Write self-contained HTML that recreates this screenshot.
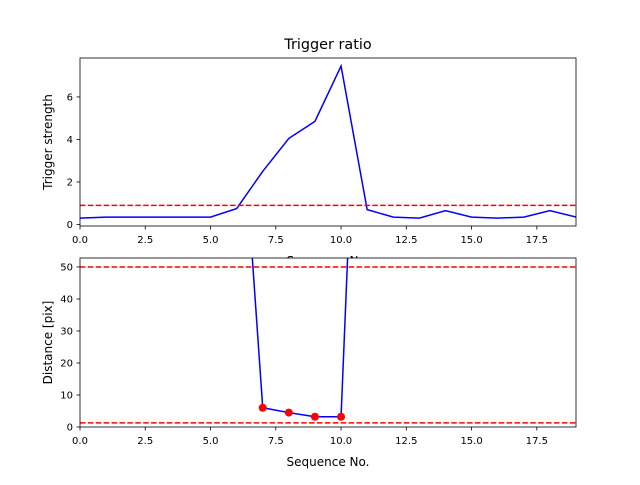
<!DOCTYPE html>
<html><head><meta charset="utf-8"><style>
body{margin:0;background:#fff;font-family:"Liberation Sans","DejaVu Sans",sans-serif}
text{font-family:"DejaVu Sans","Liberation Sans",sans-serif}
</style></head><body>
<svg id="c" width="640" height="480" xmlns="http://www.w3.org/2000/svg"></svg>
<script>
const seq=[0,1,2,3,4,5,6,7,8,9,10,11,12,13,14,15,16,17,18,19];
const strength=[0.3,0.35,0.35,0.35,0.35,0.35,0.75,2.5,4.05,4.85,7.45,0.7,0.35,0.3,0.65,0.35,0.3,0.35,0.65,0.35];
const strengthThreshold=0.9;
const distX=[5,6,7,8,9,10,11,12];
const distance=[150,123,6,4.5,3.2,3.2,201,150];
const dotX=[7,8,9,10];
const dotY=[6,4.5,3.2,3.2];
const distLines=[50,1.3];
const xTicks=[0,2.5,5,7.5,10,12.5,15,17.5];
const xTickLabels=["0.0","2.5","5.0","7.5","10.0","12.5","15.0","17.5"];
const topTicks=[0,2,4,6];
const botTicks=[0,10,20,30,40,50];

const svg=document.getElementById('c');
const NS='http://www.w3.org/2000/svg';
function el(t,a,p){const e=document.createElementNS(NS,t);for(const k in a)e.setAttribute(k,a[k]);(p||svg).appendChild(e);return e;}
function panel(y0,y1,ymin,ymax,name){
  const L=80,R=576;
  const sx=v=>L+(v-0)/(19-0)*(R-L);
  const sy=v=>y1-(v-ymin)/(ymax-ymin)*(y1-y0);
  const g=el('g',{});
  
  
  el('rect',{x:L,y:y0,width:R-L,height:y1-y0,fill:'#fff'},g);
  const cid='clip'+name;
  const cp=el('clipPath',{id:cid},g);el('rect',{x:L,y:y0,width:R-L,height:y1-y0},cp);
  return {g,sx,sy,L,R,y0,y1,cid};
}
function axes(p,yt,ylabels,ytitle,name){
  const {g,sx,sy,L,R,y0,y1}=p;
  el('rect',{x:L,y:y0,width:R-L,height:y1-y0,fill:'none',stroke:'#000','stroke-width':0.8},g);
  xTicks.forEach((v,i)=>{const x=sx(v);el('line',{x1:x,x2:x,y1:y1,y2:y1+3.5,stroke:'#000','stroke-width':0.8},g);
    const t=el('text',{x:x,y:y1+17,'font-size':10,'text-anchor':'middle'},g);t.textContent=xTickLabels[i];
    });
  yt.forEach(v=>{const y=sy(v);el('line',{x1:L,x2:L-3.5,y1:y,y2:y,stroke:'#000','stroke-width':0.8},g);
    const t=el('text',{x:L-7,y:y+3.5,'font-size':10,'text-anchor':'end'},g);t.textContent=String(v);
    });
  const xt=el('text',{x:(L+R)/2,y:y1+39,'font-size':12,'text-anchor':'middle'},g);xt.textContent='Sequence No.';
  
  const yy=(y0+y1)/2;
  const ytx=el('text',{x:52,y:yy,'font-size':12,'text-anchor':'middle',transform:`rotate(-90 52 ${yy})`},g);ytx.textContent=ytitle;
  
}
// top
const p1=panel(58,226,-0.07,7.83,'top-panel');
const pl1=el('polyline',{points:seq.map((x,i)=>p1.sx(x)+','+p1.sy(strength[i])).join(' '),fill:'none',stroke:'#0000ff','stroke-width':1.5,'clip-path':`url(#${p1.cid})`},p1.g);

const th=el('line',{x1:p1.L,x2:p1.R,y1:p1.sy(strengthThreshold),y2:p1.sy(strengthThreshold),stroke:'#ff0000','stroke-width':1.5,'stroke-dasharray':'5.5,2.4'},p1.g);

axes(p1,topTicks,null,'Trigger strength');
const tt=el('text',{x:328,y:49,'font-size':14.4,'text-anchor':'middle'});tt.textContent='Trigger ratio';

// bottom
const p2=panel(258,427,0,52.8,'bottom-panel');
const pl2=el('polyline',{points:distX.map((x,i)=>p2.sx(x)+','+p2.sy(distance[i])).join(' '),fill:'none',stroke:'#0000ff','stroke-width':1.5,'clip-path':`url(#${p2.cid})`},p2.g);

distLines.forEach(v=>{const l=el('line',{x1:p2.L,x2:p2.R,y1:p2.sy(v),y2:p2.sy(v),stroke:'#ff0000','stroke-width':1.5,'stroke-dasharray':'5.5,2.4'},p2.g);
  });
dotX.forEach((x,i)=>{const c=el('circle',{cx:p2.sx(x),cy:p2.sy(dotY[i]),r:4,fill:'#ff0000'},p2.g);
  });
axes(p2,botTicks,null,'Distance [pix]');
</script>
</body></html>
